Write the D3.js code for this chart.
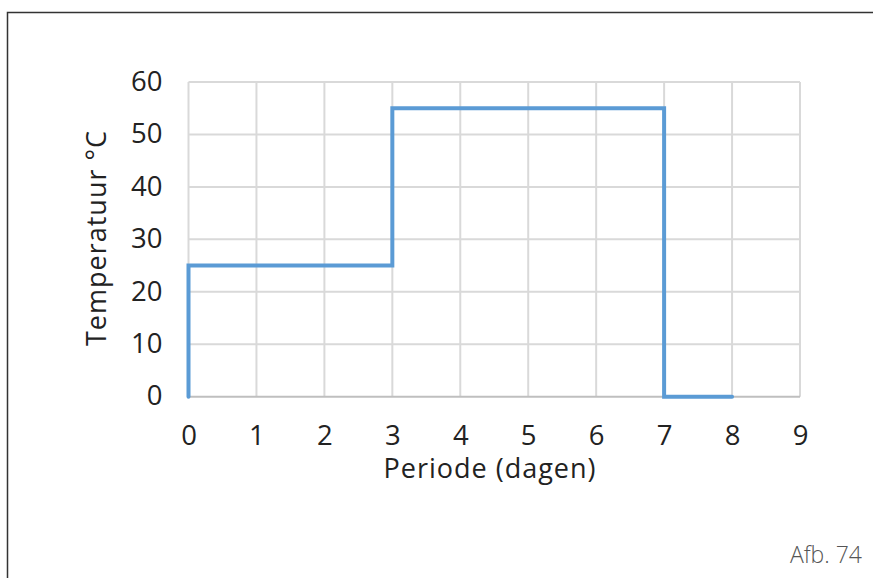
<!DOCTYPE html>
<html><head><meta charset="utf-8">
<script src="https://cdn.jsdelivr.net/npm/d3@7"></script>
<style>body{margin:0;background:#fff;} svg{display:block;} text{font-family:"Open Sans","Noto Sans",sans-serif;}</style>
</head><body><svg id="c" width="873" height="578"></svg>
<script>
const periodX = [0, 0, 3, 3, 7, 7, 8];
const tempY = [0, 25, 25, 55, 55, 0, 0];
const xTicks = [0,1,2,3,4,5,6,7,8,9];
const yTicks = [0,10,20,30,40,50,60];
const xTitle = "Periode (dagen)";
const yTitle = "Temperatuur °C";
const caption = "Afb. 74";

const svg = d3.select("#c");
svg.append("path").attr("d","M7.5,590 L7.5,12.5 L880,12.5").attr("fill","none").attr("stroke","#333").attr("stroke-width",1.5);

const x = d3.scaleLinear().domain([0,9]).range([188.5,800]);
const y = d3.scaleLinear().domain([0,60]).range([396.7,82]);

const g = svg.append("g");
g.selectAll("line.v").data(xTicks).join("line").attr("class","v")
 .attr("x1",d=>x(d)).attr("x2",d=>x(d)).attr("y1",y(60)).attr("y2",y(0))
 .attr("stroke","#d9d9d9").attr("stroke-width",2);
g.selectAll("line.h").data(yTicks.filter(d=>d>0)).join("line").attr("class","h")
 .attr("x1",x(0)).attr("x2",x(9)).attr("y1",d=>y(d)).attr("y2",d=>y(d))
 .attr("stroke","#d9d9d9").attr("stroke-width",2);
g.append("line").attr("x1",x(0)).attr("x2",x(9)).attr("y1",y(0)).attr("y2",y(0))
 .attr("stroke","#bfbfbf").attr("stroke-width",2);

const xAxis = d3.axisBottom(x).tickValues(xTicks).tickSize(0).tickPadding(0);
const xa = svg.append("g").attr("transform",`translate(0,${y(0)})`).call(xAxis);
xa.select(".domain").remove();
xa.selectAll("text").attr("font-size",27.5).attr("fill","#222").attr("dy","0").attr("y",48)
 .style("font-family",'"Open Sans","Noto Sans",sans-serif');

const yAxis = d3.axisLeft(y).tickValues(yTicks).tickSize(0).tickPadding(0);
const ya = svg.append("g").attr("transform",`translate(${x(0)},0)`).call(yAxis);
ya.select(".domain").remove();
ya.selectAll("text").attr("font-size",27.5).attr("fill","#222").attr("x",-26).attr("dy","0.3em")
 .style("font-family",'"Open Sans","Noto Sans",sans-serif');

const pts = periodX.map((d,i)=>[d,tempY[i]]);
svg.append("path").datum(pts).attr("d",d3.line().x(d=>x(d[0])).y(d=>y(d[1])))
 .attr("fill","none").attr("stroke","#5b9bd5").attr("stroke-width",4)
 .attr("stroke-linecap","round").attr("stroke-linejoin","miter");

svg.append("text").attr("x",490).attr("y",478).attr("text-anchor","middle")
 .attr("font-size",27).attr("letter-spacing",1).attr("fill","#222").text(xTitle);
svg.append("text").attr("transform",`translate(106,238) rotate(-90)`).attr("text-anchor","middle")
 .attr("font-size",27).attr("letter-spacing",1).attr("fill","#222").text(yTitle);
svg.append("text").attr("x",862).attr("y",563).attr("text-anchor","end")
 .attr("font-size",23).attr("font-weight",300).attr("fill","#555").text(caption);
</script></body></html>
